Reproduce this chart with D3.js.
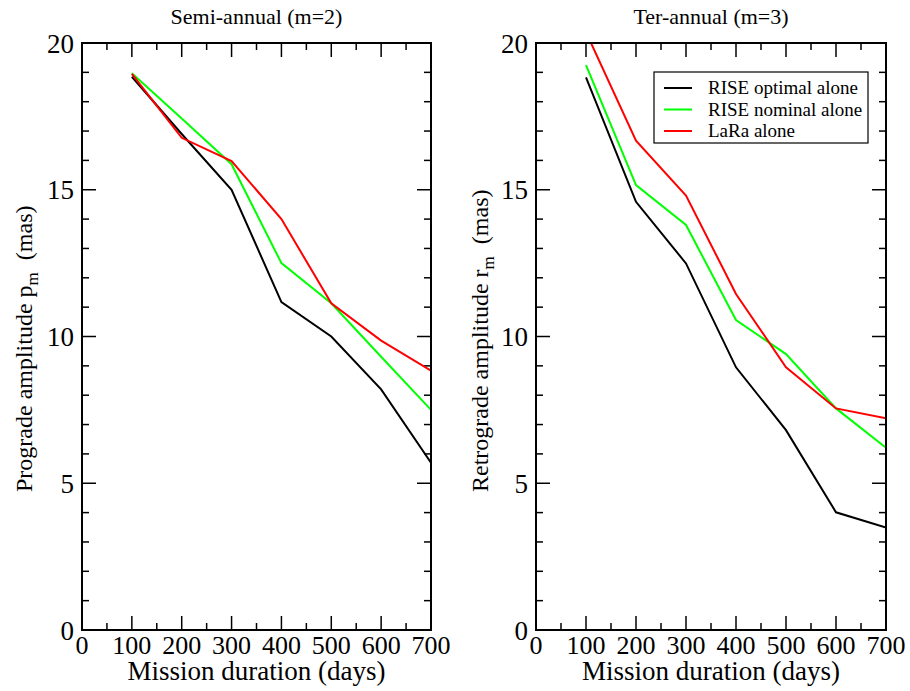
<!DOCTYPE html>
<html><head><meta charset="utf-8">
<script src="https://cdn.jsdelivr.net/npm/d3@7"></script>
<style>body{margin:0;background:#fff}svg{display:block}text{font-family:"Liberation Serif","Times New Roman",serif}</style>
</head><body>
<svg id="c" width="910" height="691"></svg>
<script>
const days = [100,200,300,400,500,600,700];
const seriesNames = ["RISE optimal alone","RISE nominal alone","LaRa alone"];
const seriesColors = ["#000000","#00ff00","#ff0000"];
// Semi-annual prograde amplitude p_m (mas)
const semiOptimal = [18.85,16.9,15.0,11.17,10.0,8.2,5.7];
const semiNominal = [18.97,17.43,15.87,12.5,11.13,9.31,7.5];
const semiLaRa    = [18.95,16.77,15.98,14.0,11.13,9.86,8.84];
// Ter-annual retrograde amplitude r_m (mas)
const terOptimal = [18.83,14.59,12.49,8.95,6.81,4.01,3.49];
const terNominal = [19.25,15.16,13.8,10.56,9.4,7.55,6.21];
const terLaRa    = [20.37,16.67,14.8,11.45,8.95,7.55,7.21];
const xTickLabels = [0,100,200,300,400,500,600,700];
const yTickLabels = [0,5,10,15,20];

const svg = d3.select("#c");
const plotTop = 43, plotBottom = 630;

const panels = [
  {x0:82, x1:431, title:"Semi-annual (m=2)", ylab:"Prograde amplitude p", ylabx:32, series:[semiOptimal,semiNominal,semiLaRa], legend:false, id:"a"},
  {x0:536, x1:886, title:"Ter-annual (m=3)", ylab:"Retrograde amplitude r", ylabx:488, series:[terOptimal,terNominal,terLaRa], legend:true, id:"b"}
];

panels.forEach(p => {
  const x = d3.scaleLinear().domain([0,700]).range([p.x0,p.x1]);
  const y = d3.scaleLinear().domain([0,20]).range([plotBottom,plotTop]);
  const g = svg.append("g");
  g.append("clipPath").attr("id","clip"+p.id).append("rect")
    .attr("x",p.x0).attr("y",plotTop).attr("width",p.x1-p.x0).attr("height",plotBottom-plotTop);

  const xMinor = d3.range(0,701,50);
  const yMinor = d3.range(0,21,1);
  xMinor.forEach(d => {
    const len = d%100===0 ? 14 : 7;
    g.append("line").attr("x1",x(d)).attr("x2",x(d)).attr("y1",plotBottom).attr("y2",plotBottom-len).attr("stroke","#000").attr("stroke-width",1.5);
    g.append("line").attr("x1",x(d)).attr("x2",x(d)).attr("y1",plotTop).attr("y2",plotTop+len).attr("stroke","#000").attr("stroke-width",1.5);
  });
  yMinor.forEach(d => {
    const len = d%5===0 ? 14 : 7;
    g.append("line").attr("y1",y(d)).attr("y2",y(d)).attr("x1",p.x0).attr("x2",p.x0+len).attr("stroke","#000").attr("stroke-width",1.5);
    g.append("line").attr("y1",y(d)).attr("y2",y(d)).attr("x1",p.x1).attr("x2",p.x1-len).attr("stroke","#000").attr("stroke-width",1.5);
  });

  const line = d3.line().x((d,i)=>x(days[i])).y(d=>y(d));
  p.series.forEach((s,k) => {
    g.append("path").datum(s).attr("d",line).attr("fill","none")
      .attr("stroke",seriesColors[k]).attr("stroke-width",2).attr("clip-path","url(#clip"+p.id+")");
  });

  g.append("rect").attr("x",p.x0).attr("y",plotTop).attr("width",p.x1-p.x0).attr("height",plotBottom-plotTop)
    .attr("fill","none").attr("stroke","#000").attr("stroke-width",2);

  xTickLabels.forEach(d => {
    g.append("text").attr("x",x(d)).attr("y",654).attr("text-anchor","middle").attr("font-size",26).text(d);
  });
  yTickLabels.forEach(d => {
    g.append("text").attr("x",p.x0-8).attr("y",y(d)+9.5).attr("text-anchor","end").attr("font-size",27).text(d);
  });

  g.append("text").attr("x",(p.x0+p.x1)/2).attr("y",24).attr("text-anchor","middle").attr("font-size",22).text(p.title);
  g.append("text").attr("x",(p.x0+p.x1)/2).attr("y",680).attr("text-anchor","middle").attr("font-size",27).text("Mission duration (days)");
  const yl = g.append("text").attr("transform",`translate(${p.ylabx},492) rotate(-90)`)
    .attr("text-anchor","start").attr("font-size",24);
  yl.append("tspan").text(p.ylab);
  yl.append("tspan").attr("font-size",17).attr("dy",6).text("m");
  yl.append("tspan").attr("dy",-6).text("\u00a0\u00a0(mas)");

  if (p.legend) {
    const lg = g.append("g");
    lg.append("rect").attr("x",654).attr("y",72).attr("width",214).attr("height",71)
      .attr("fill","#fff").attr("stroke","#000").attr("stroke-width",1.2);
    seriesNames.forEach((n,k) => {
      const yy = 88 + k*21.5;
      lg.append("line").attr("x1",664).attr("x2",692).attr("y1",yy).attr("y2",yy).attr("stroke",seriesColors[k]).attr("stroke-width",2);
      lg.append("text").attr("x",708).attr("y",yy+6).attr("font-size",19).text(n);
    });
  }
});
</script>
</body></html>
